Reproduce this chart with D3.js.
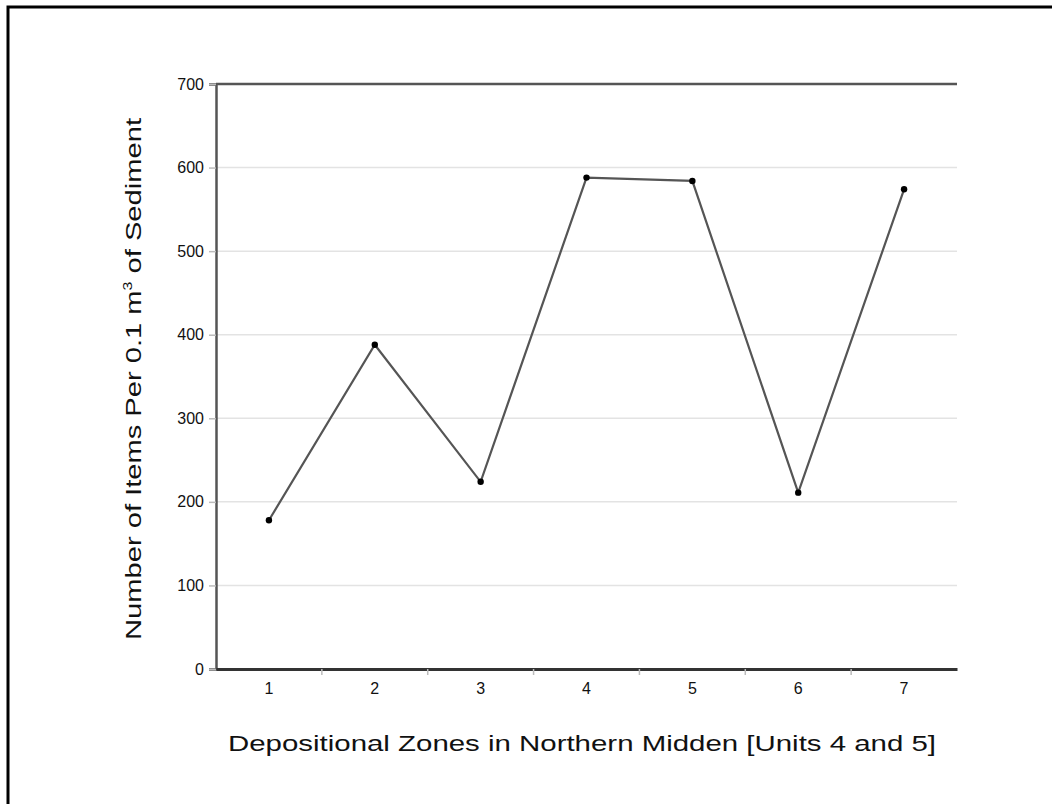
<!DOCTYPE html>
<html>
<head>
<meta charset="utf-8">
<script src="https://cdn.jsdelivr.net/npm/d3@7"></script>
<style>
  html, body { margin: 0; padding: 0; background: #fff; }
  svg { display: block; }
  text { font-family: "Liberation Sans", Arial, sans-serif; fill: #111; }
</style>
</head>
<body>
<svg id="chart" width="1052" height="804"></svg>
<script>
// Depositional zones and item density per 0.1 m³ of sediment
const zones = ["1", "2", "3", "4", "5", "6", "7"];
const itemsPerVolume = [178, 388, 224, 588, 584, 211, 574];
const yTicks = [0, 100, 200, 300, 400, 500, 600, 700];

const svg = d3.select("#chart");
const plot = { left: 216, right: 957, top: 84, bottom: 669 };
const tickFont = "16px";

// outer frame
svg.append("rect")
  .attr("x", 8).attr("y", 7)
  .attr("width", 1046).attr("height", 820)
  .attr("fill", "none").attr("stroke", "#000").attr("stroke-width", 3);

const x = d3.scaleBand().domain(zones).range([plot.left, plot.right]);
const y = d3.scaleLinear().domain([0, 700]).range([plot.bottom, plot.top]);

// horizontal gridlines
svg.append("g")
  .selectAll("line")
  .data(yTicks.filter(t => t > 0 && t < 700))
  .join("line")
  .attr("x1", plot.left).attr("x2", plot.right)
  .attr("y1", d => y(d)).attr("y2", d => y(d))
  .attr("stroke", "#e3e3e3").attr("stroke-width", 1.5);

// top border line at 700
svg.append("line")
  .attr("x1", plot.left).attr("x2", plot.right)
  .attr("y1", y(700)).attr("y2", y(700))
  .attr("stroke", "#555").attr("stroke-width", 2.5);

// y axis
const yAxis = svg.append("g")
  .attr("transform", `translate(${plot.left},0)`)
  .call(d3.axisLeft(y).tickValues(yTicks).tickSize(7).tickPadding(5));
yAxis.select(".domain").attr("stroke", "#555").attr("stroke-width", 2.5);
yAxis.selectAll(".tick line").attr("stroke", "#bbb").attr("stroke-width", 1.5);
yAxis.selectAll(".tick text")
  .attr("font-family", null).attr("font-size", null)
  .style("font-family", "Liberation Sans, Arial, sans-serif")
  .style("font-size", tickFont).attr("fill", "#111");
yAxis.attr("font-size", null).attr("font-family", null);

// x axis with ticks on band boundaries
const xAxis = svg.append("g")
  .attr("transform", `translate(0,${plot.bottom})`)
  .call(d3.axisBottom(x).tickSize(0).tickPadding(14));
xAxis.attr("font-size", null).attr("font-family", null);
xAxis.select(".domain").attr("stroke", "#333").attr("stroke-width", 3);
xAxis.selectAll(".tick text")
  .style("font-family", "Liberation Sans, Arial, sans-serif")
  .style("font-size", tickFont).attr("fill", "#111");
svg.append("g")
  .selectAll("line")
  .data(zones.slice(1))
  .join("line")
  .attr("x1", d => x(d)).attr("x2", d => x(d))
  .attr("y1", plot.bottom).attr("y2", plot.bottom + 6)
  .attr("stroke", "#bbb").attr("stroke-width", 1.5);

// data line and markers
const pts = zones.map((z, i) => [x(z) + x.bandwidth() / 2, y(itemsPerVolume[i])]);
svg.append("path")
  .attr("d", d3.line()(pts))
  .attr("fill", "none").attr("stroke", "#555").attr("stroke-width", 2.2);
svg.append("g")
  .selectAll("circle")
  .data(pts)
  .join("circle")
  .attr("cx", d => d[0]).attr("cy", d => d[1])
  .attr("r", 3.2).attr("fill", "#000");

// axis titles
svg.append("text")
  .attr("x", 582).attr("y", 751)
  .attr("text-anchor", "middle")
  .attr("textLength", 708).attr("lengthAdjust", "spacingAndGlyphs")
  .style("font-size", "22px")
  .text("Depositional Zones in Northern Midden [Units 4 and 5]");

const yTitle = svg.append("text")
  .attr("transform", "translate(141,379) rotate(-90)")
  .attr("text-anchor", "middle")
  .attr("textLength", 522).attr("lengthAdjust", "spacingAndGlyphs")
  .style("font-size", "22px");
yTitle.append("tspan").text("Number of Items Per 0.1 m");
yTitle.append("tspan").attr("dy", -9).style("font-size", "12px").text("3");
yTitle.append("tspan").attr("dy", 9).text(" of Sediment");
</script>
</body>
</html>
